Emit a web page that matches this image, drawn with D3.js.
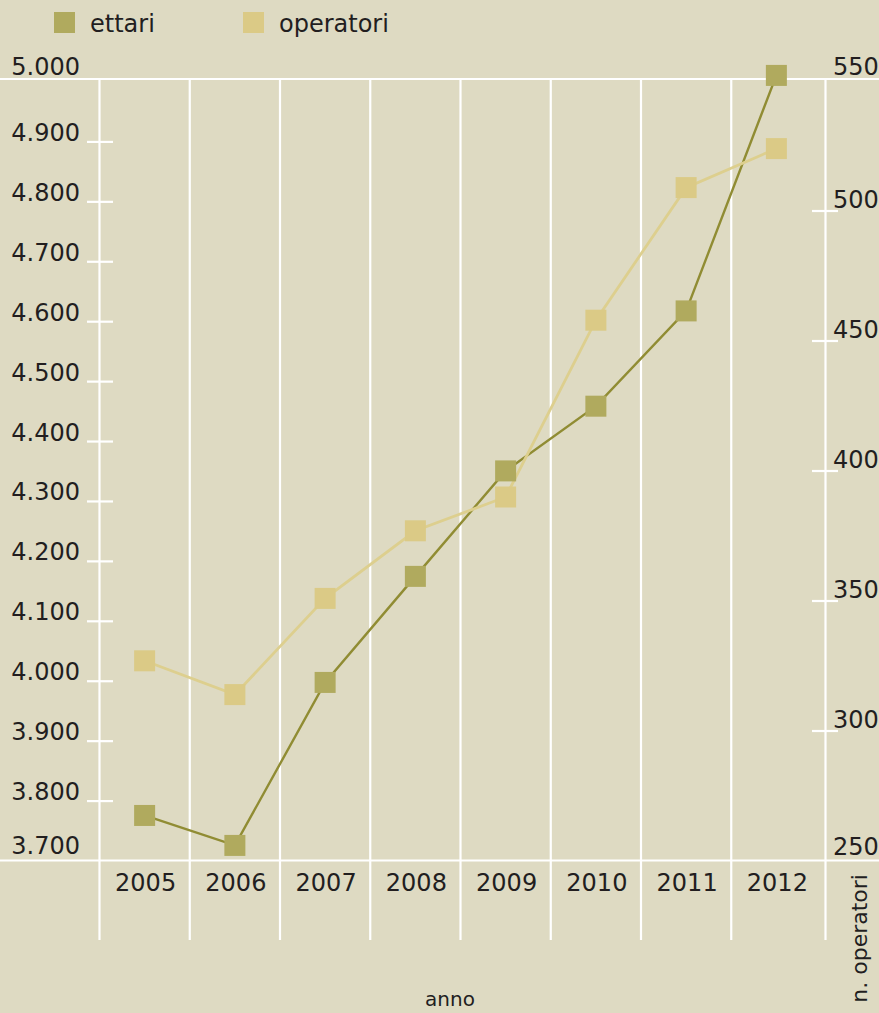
<!DOCTYPE html>
<html>
<head>
<meta charset="utf-8">
<script src="https://cdn.jsdelivr.net/npm/d3@7"></script>
<style>
  html, body { margin: 0; padding: 0; background: #dedac2; }
  svg { display: block; }
  text { font-family: "DejaVu Sans", sans-serif; fill: #221e1f; }
</style>
</head>
<body>
<div id="chart"></div>
<script>
// ---- data ----
const years = [2005, 2006, 2007, 2008, 2009, 2010, 2011, 2012];
const ettari = [3776, 3726, 3998, 4175, 4351, 4459, 4618, 5011];
const operatori = [327, 314, 351, 377, 390, 458, 509, 524];
const leftTicks = [3700, 3800, 3900, 4000, 4100, 4200, 4300, 4400, 4500, 4600, 4700, 4800, 4900, 5000];
const rightTicks = [250, 300, 350, 400, 450, 500, 550];
const seriesNames = ["ettari", "operatori"];
const seriesColors = ["#b0aa5e", "#dbca86"];
const lineColors = ["#908c33", "#ddcf8e"];

// ---- layout ----
const W = 879, H = 1013;
const topY = 79, botY = 860.5, gridBottom = 940;
const leftX = 99.5, rightX = 825.5;

const svg = d3.select("#chart").append("svg").attr("width", W).attr("height", H);
svg.append("rect").attr("width", W).attr("height", H).attr("fill", "#dedac2");

const x = d3.scaleBand().domain(years).range([leftX, 821.5]).padding(0);
const yL = d3.scaleLinear().domain([3700, 5000]).range([861, 82]);
const yR = d3.scaleLinear().domain([250, 550]).range([861, 81]);

const it = d3.formatLocale({decimal: ",", thousands: ".", grouping: [3], currency: ["€", ""]});
const fmt = it.format(",");

const fontSize = 24;

// grid lines (white)
const grid = svg.append("g").attr("stroke", "#ffffff").attr("stroke-width", 2.2);
grid.append("line").attr("x1", 0).attr("x2", W).attr("y1", topY).attr("y2", topY);
grid.append("line").attr("x1", 0).attr("x2", W).attr("y1", botY).attr("y2", botY);
grid.selectAll("line.v").data(years).enter().append("line").attr("class", "v")
  .attr("x1", d => x(d)).attr("x2", d => x(d))
  .attr("y1", topY).attr("y2", gridBottom);
grid.append("line").attr("x1", rightX).attr("x2", rightX).attr("y1", topY).attr("y2", gridBottom);

// left axis ticks & labels
grid.selectAll("line.lt").data(leftTicks.filter(d => d > 3700 && d < 5000)).enter()
  .append("line").attr("class", "lt")
  .attr("x1", 87).attr("x2", 113).attr("y1", d => yL(d)).attr("y2", d => yL(d));
svg.append("g").selectAll("text").data(leftTicks).enter().append("text")
  .attr("x", 80).attr("text-anchor", "end").attr("font-size", fontSize)
  .attr("y", d => yL(d) - ((d === 3700 || d === 5000) ? 7 : 1))
  .text(d => fmt(d));

// right axis ticks & labels
grid.selectAll("line.rt").data(rightTicks.filter(d => d > 250 && d < 550)).enter()
  .append("line").attr("class", "rt")
  .attr("x1", 812).attr("x2", 838).attr("y1", d => yR(d)).attr("y2", d => yR(d));
svg.append("g").selectAll("text").data(rightTicks).enter().append("text")
  .attr("x", 833).attr("text-anchor", "start").attr("font-size", fontSize)
  .attr("y", d => yR(d) - ((d === 250 || d === 550) ? 6 : 3))
  .text(d => d);

// year labels
svg.append("g").selectAll("text").data(years).enter().append("text")
  .attr("x", d => x(d) + x.bandwidth() / 2 + 1)
  .attr("y", 891).attr("text-anchor", "middle").attr("font-size", fontSize)
  .text(d => d);

// axis titles
svg.append("text").attr("x", 450).attr("y", 1006).attr("text-anchor", "middle")
  .attr("font-size", 20).text("anno");
svg.append("text").attr("transform", "translate(867,874) rotate(-90)")
  .attr("text-anchor", "end").attr("font-size", 22).text("n. operatori");

// lines
const cx = d => x(d) + x.bandwidth() / 2;
const dataE = years.map((yr, i) => ({yr, v: ettari[i]}));
const dataO = years.map((yr, i) => ({yr, v: operatori[i]}));
const lineE = d3.line().x(d => cx(d.yr)).y(d => yL(d.v));
const lineO = d3.line().x(d => cx(d.yr)).y(d => yR(d.v));

svg.append("path").datum(dataE).attr("d", lineE).attr("fill", "none")
  .attr("stroke", lineColors[0]).attr("stroke-width", 2.4);
svg.append("path").datum(dataO).attr("d", lineO).attr("fill", "none")
  .attr("stroke", lineColors[1]).attr("stroke-width", 2.8);

const S = 21;
svg.append("g").selectAll("rect").data(dataE).enter().append("rect")
  .attr("x", d => cx(d.yr) - S / 2).attr("y", d => yL(d.v) - S / 2)
  .attr("width", S).attr("height", S).attr("fill", seriesColors[0]);
svg.append("g").selectAll("rect").data(dataO).enter().append("rect")
  .attr("x", d => cx(d.yr) - S / 2).attr("y", d => yR(d.v) - S / 2)
  .attr("width", S).attr("height", S).attr("fill", seriesColors[1]);

// legend
const legendX = [54, 243];
const leg = svg.append("g").selectAll("g").data(seriesNames).enter().append("g")
  .attr("transform", (d, i) => `translate(${legendX[i]},12)`);
leg.append("rect").attr("width", S).attr("height", S).attr("fill", (d, i) => seriesColors[i]);
leg.append("text").attr("x", 36).attr("y", 20).attr("font-size", fontSize).text(d => d);
</script>
</body>
</html>
